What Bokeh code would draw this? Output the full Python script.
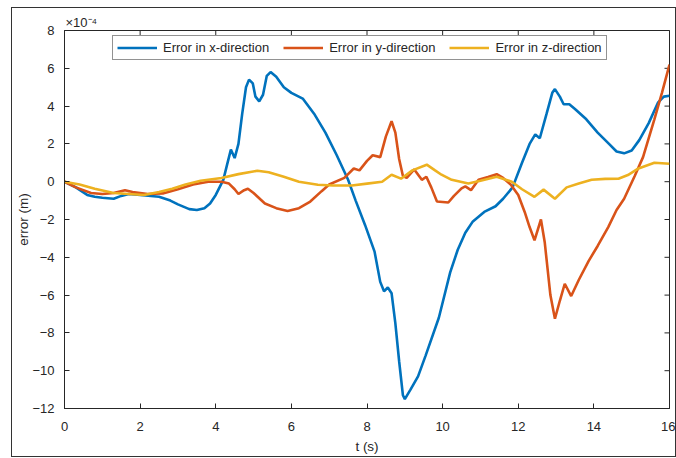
import math
from bokeh.plotting import figure
from bokeh.models import SingleIntervalTicker, Legend, LegendItem
from bokeh.embed import file_html
from bokeh.resources import INLINE

# time (s) and errors in units of 1e-4 m
t_x = [0, 0.3, 0.6, 0.8, 1.0, 1.3, 1.5, 1.7, 2.0, 2.5, 2.8, 3.0, 3.3, 3.5, 3.7, 3.85, 4.0, 4.1, 4.2, 4.3,
       4.4, 4.5, 4.6, 4.7, 4.8, 4.88, 4.98, 5.05, 5.15, 5.25, 5.35, 5.45, 5.6, 5.8, 6.0, 6.3, 6.6, 6.9, 7.2, 7.5,
       7.7, 7.95, 8.2, 8.35, 8.45, 8.55, 8.65, 8.75, 8.85, 8.95, 9.0, 9.15, 9.35, 9.55, 9.9, 10.2, 10.4, 10.6, 10.8, 11.1,
       11.4, 11.6, 11.85, 12.1, 12.3, 12.45, 12.57, 12.75, 12.9, 12.97, 13.1, 13.2, 13.35, 13.5, 13.8, 14.1, 14.4, 14.6, 14.8, 15.0,
       15.2, 15.45, 15.7, 15.85, 16.0]
err_x = [0, -0.3, -0.7, -0.8, -0.85, -0.9, -0.75, -0.65, -0.7, -0.8, -1.0, -1.2, -1.45, -1.5, -1.4, -1.15, -0.7, -0.3, 0.1, 0.9,
         1.7, 1.25, 2.0, 3.6, 5.0, 5.4, 5.2, 4.5, 4.25, 4.6, 5.6, 5.8, 5.55, 5.0, 4.7, 4.4, 3.6, 2.6, 1.4, 0.1,
         -1.0, -2.3, -3.7, -5.3, -5.8, -5.6, -5.9, -7.5, -9.5, -11.3, -11.5, -11.0, -10.3, -9.2, -7.2, -4.8, -3.6, -2.7, -2.1, -1.6,
         -1.3, -0.9, -0.3, 1.0, 2.0, 2.5, 2.3, 3.6, 4.7, 4.9, 4.5, 4.1, 4.1, 3.85, 3.3, 2.6, 2.0, 1.6, 1.5, 1.65,
         2.2, 3.1, 4.2, 4.5, 4.55]

t_y = [0, 0.3, 0.7, 1.0, 1.3, 1.6, 1.8, 2.2, 2.6, 3.0, 3.4, 3.8, 4.15, 4.35, 4.5, 4.6, 4.75, 4.85, 5.0, 5.3,
       5.6, 5.9, 6.2, 6.5, 6.8, 7.0, 7.4, 7.65, 7.8, 8.0, 8.15, 8.35, 8.5, 8.65, 8.75, 8.85, 8.95, 9.05, 9.25, 9.45,
       9.57, 9.7, 9.85, 10.15, 10.3, 10.5, 10.6, 10.75, 10.95, 11.2, 11.43, 11.6, 11.8, 12.0, 12.17, 12.3, 12.43, 12.6, 12.7, 12.85,
       12.97, 13.1, 13.23, 13.4, 13.6, 13.86, 14.1, 14.38, 14.6, 14.8, 15.08, 15.3, 15.6, 15.8, 16.0]
err_y = [0, -0.3, -0.6, -0.65, -0.6, -0.45, -0.55, -0.65, -0.62, -0.4, -0.15, 0.0, 0.0, -0.1, -0.4, -0.65, -0.45, -0.37, -0.6, -1.15,
         -1.4, -1.55, -1.4, -1.05, -0.5, -0.15, 0.2, 0.7, 0.6, 1.1, 1.4, 1.3, 2.4, 3.2, 2.6, 1.2, 0.3, 0.2, 0.65, 0.1,
         0.26, -0.3, -1.05, -1.1, -0.75, -0.35, -0.25, -0.45, 0.1, 0.25, 0.4, 0.2, -0.15, -0.7, -1.6, -2.4, -3.1, -2.0, -3.2, -6.0,
         -7.25, -6.3, -5.4, -6.05, -5.2, -4.2, -3.4, -2.4, -1.5, -0.9, 0.3, 1.3, 3.3, 4.7, 6.2]

t_z = [0, 0.4, 0.8, 1.3, 1.7, 2.1, 2.5, 2.85, 3.2, 3.6, 4.15, 4.6, 5.1, 5.4, 5.8, 6.2, 6.7, 7.1, 7.6, 8.0,
       8.4, 8.65, 8.9, 9.2, 9.58, 9.8, 9.97, 10.24, 10.68, 11.0, 11.43, 11.83, 12.1, 12.43, 12.67, 12.97, 13.28, 13.6, 13.94, 14.3,
       14.65, 14.9, 15.18, 15.6, 16.0]
err_z = [0, -0.15, -0.37, -0.6, -0.65, -0.7, -0.55, -0.37, -0.15, 0.05, 0.2, 0.4, 0.58, 0.5, 0.26, 0.0, -0.16, -0.2, -0.2, -0.1,
         0.0, 0.37, 0.16, 0.6, 0.9, 0.6, 0.37, 0.1, -0.1, 0.05, 0.26, 0.0, -0.4, -0.8, -0.42, -0.9, -0.3, -0.1, 0.1, 0.15,
         0.16, 0.35, 0.7, 1.0, 0.95]

labels = ["Error in x-direction", "Error in y-direction", "Error in z-direction"]
colors = ["#0072BD", "#D95319", "#EDB120"]
x_ticks = [0, 2, 4, 6, 8, 10, 12, 14, 16]
y_ticks = [-12, -10, -8, -6, -4, -2, 0, 2, 4, 6, 8]
scale_text = "\u00d710\u207b\u2074"

FONT = "Liberation Sans"
TXT = "#262626"

p = figure(width=665, height=450, x_range=(0, 16), y_range=(-12, 8),
           output_backend="svg", toolbar_location=None,
           min_border_left=52, min_border_top=22, min_border_right=8, min_border_bottom=50,
           x_axis_label="t (s)", y_axis_label="error (m)", title=scale_text)
p.styles = {"border": "1px solid #333333", "margin-left": "11px", "margin-top": "7px"}
p.grid.visible = False
p.outline_line_color = TXT
p.outline_line_width = 1

p.title.align = "left"
p.title.text_font = FONT
p.title.text_font_size = "13px"
p.title.text_font_style = "normal"
p.title.text_color = TXT
p.title.standoff = 2
p.title.offset = 1

for ax in (p.xaxis[0], p.yaxis[0]):
    ax.ticker = SingleIntervalTicker(interval=2)
    ax.major_tick_in = 5
    ax.major_tick_out = 0
    ax.minor_tick_line_color = None
    ax.axis_line_color = TXT
    ax.major_tick_line_color = TXT
    ax.major_label_text_font = FONT
    ax.major_label_text_font_size = "13px"
    ax.major_label_text_color = TXT
    ax.axis_label_text_font = FONT
    ax.axis_label_text_font_size = "13.5px"
    ax.axis_label_text_font_style = "normal"
    ax.axis_label_text_color = TXT
p.xaxis[0].major_label_standoff = 9
p.xaxis[0].axis_label_standoff = 5
p.yaxis[0].major_label_standoff = 6
p.yaxis[0].axis_label_standoff = -2

# mirrored inward ticks on top and right edges of the box
p.scatter(x_ticks, [y_ticks[-1]] * len(x_ticks), marker="dash", angle=math.pi / 2, size=10,
          line_color=TXT, line_width=1)
p.scatter([x_ticks[-1]] * len(y_ticks), y_ticks, marker="dash", size=10, line_color=TXT, line_width=1)

renderers = []
for tt, vv, c in zip([t_x, t_y, t_z], [err_x, err_y, err_z], colors):
    r = p.line(tt, vv, line_color=c, line_width=2.6)
    renderers.append(r)

legend = Legend(items=[LegendItem(label=l, renderers=[r]) for l, r in zip(labels, renderers)],
                orientation="horizontal", location=(48, 348),
                glyph_width=40, glyph_height=13, label_height=13, label_standoff=6,
                spacing=14, padding=4, margin=0,
                label_text_font=FONT, label_text_font_size="13px", label_text_color=TXT,
                border_line_color=TXT, border_line_width=1, background_fill_alpha=1)
p.add_layout(legend, "center")

open("out.html", "w").write(file_html(p, INLINE))
